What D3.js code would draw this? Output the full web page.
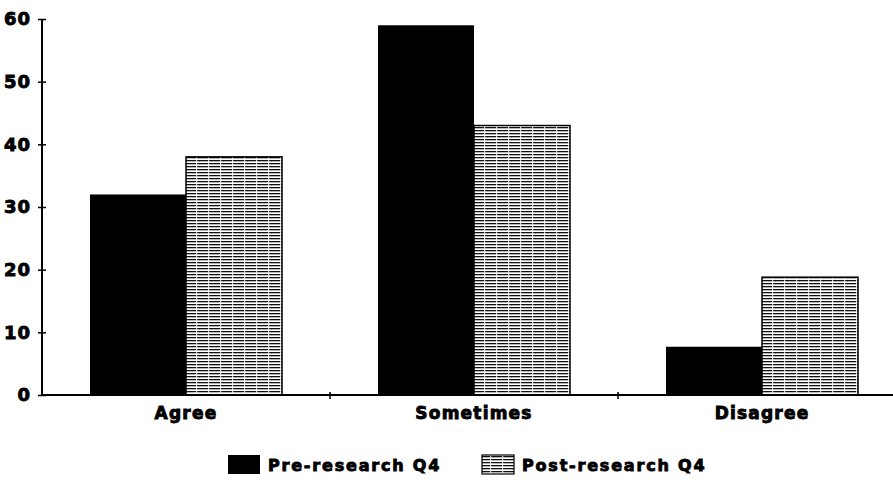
<!DOCTYPE html>
<html>
<head>
<meta charset="utf-8">
<script src="https://cdn.jsdelivr.net/npm/d3@7"></script>
<style>
  body { margin: 0; background: #fff; }
  text { font-family: "DejaVu Sans", Verdana, sans-serif; font-weight: bold; fill: #000; stroke: #000; stroke-width: 0.9px; }
</style>
</head>
<body>
<svg id="chart" width="893" height="480"></svg>
<script>
// Survey responses to Q4, before and after the research
const categories = ["Agree", "Sometimes", "Disagree"];
const seriesNames = ["Pre-research Q4", "Post-research Q4"];
const preValues = [32, 59, 7.7];
const postValues = [38, 43, 18.8];
const yTicks = [0, 10, 20, 30, 40, 50, 60];

const svg = d3.select("#chart");
const margin = { left: 42, top: 19, right: -13, bottom: 85 };
const W = 893, H = 480;

const x = d3.scaleBand().domain(categories).range([margin.left, W - margin.right]).paddingInner(0).paddingOuter(0);
const x1 = d3.scaleBand().domain(seriesNames).range([0, x.bandwidth()]).paddingInner(0).paddingOuter(0.5);
const y = d3.scaleLinear().domain([0, 60]).range([H - margin.bottom, margin.top]);

// Horizontal dashed hatch used for the post-research bars
const defs = svg.append("defs");
const pat = defs.append("pattern")
  .attr("id", "hatch").attr("patternUnits", "userSpaceOnUse")
  .attr("width", 12).attr("height", 3);
pat.append("rect").attr("width", 12).attr("height", 3).attr("fill", "#fff");
pat.append("rect").attr("x", 0).attr("y", 1).attr("width", 10).attr("height", 1.3).attr("fill", "#111");
pat.append("rect").attr("x", 10.8).attr("y", 1).attr("width", 1.2).attr("height", 1.3).attr("fill", "#333");

const fills = ["#000", "url(#hatch)"];

const data = categories.map((c, i) => ({ cat: c, vals: [preValues[i], postValues[i]] }));

const groups = svg.append("g").selectAll("g").data(data).join("g")
  .attr("transform", d => `translate(${x(d.cat)},0)`);

groups.selectAll("rect").data(d => d.vals.map((v, k) => ({ v, k }))).join("rect")
  .attr("x", d => x1(seriesNames[d.k]))
  .attr("width", x1.bandwidth())
  .attr("y", d => y(d.v))
  .attr("height", d => y(0) - y(d.v))
  .attr("fill", d => fills[d.k])
  .attr("stroke", "#000")
  .attr("stroke-width", d => d.k === 1 ? 1.5 : 0);

// Y axis
const yAxis = svg.append("g").attr("transform", `translate(${margin.left},0)`)
  .call(d3.axisLeft(y).tickValues(yTicks).tickSize(5).tickPadding(6).tickFormat(d3.format("d")));
yAxis.select(".domain").attr("stroke", "#000").attr("stroke-width", 2).attr("d", `M0,${y(60)}V${y(0)}`);
yAxis.selectAll(".tick line").attr("stroke", "#000").attr("stroke-width", 1.5).attr("x1", 4).attr("x2", -4);
yAxis.selectAll(".tick text").style("font-size", "18px").style("letter-spacing", "1px").attr("fill", "#000");

// X axis baseline with separators between categories
const xAxis = svg.append("g").attr("transform", `translate(0,${y(0)})`);
xAxis.append("line").attr("x1", margin.left).attr("x2", W).attr("stroke", "#000").attr("stroke-width", 2);
xAxis.selectAll("line.sep").data(categories.slice(1)).join("line").attr("class", "sep")
  .attr("x1", d => x(d)).attr("x2", d => x(d)).attr("y1", -3).attr("y2", 4)
  .attr("stroke", "#000").attr("stroke-width", 1.5);
xAxis.selectAll("text").data(categories).join("text")
  .attr("x", d => x(d) + x1(seriesNames[0]) + x1.bandwidth())
  .attr("y", 24).attr("text-anchor", "middle")
  .style("font-size", "17px").style("letter-spacing", "1.2px")
  .text(d => d);

// Legend
const legend = svg.append("g").attr("transform", "translate(0,455)");
const legX = [228, 482];
seriesNames.forEach((name, i) => {
  legend.append("rect").attr("x", legX[i]).attr("y", 0).attr("width", 32).attr("height", 19)
    .attr("fill", fills[i]).attr("stroke", "#000").attr("stroke-width", i === 1 ? 1.2 : 0);
  legend.append("text").attr("x", legX[i] + 40).attr("y", 16)
    .style("font-size", "16px").style("letter-spacing", "1.8px").text(name);
});
</script>
</body>
</html>
